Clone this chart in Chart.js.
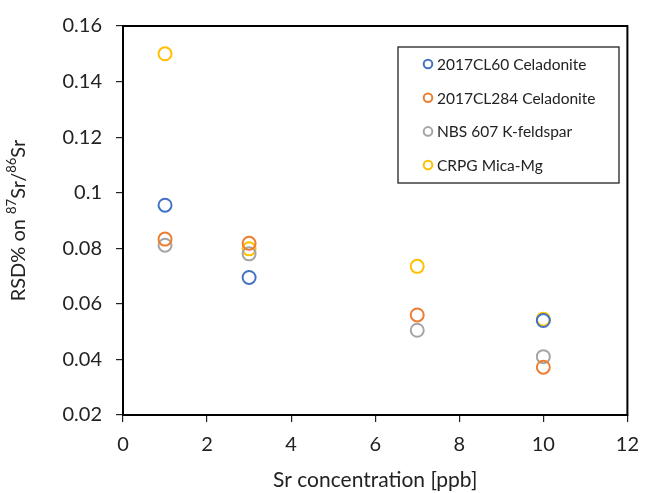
<!DOCTYPE html>
<html><head><meta charset="utf-8">
<script src="https://cdn.jsdelivr.net/npm/chart.js@4/dist/chart.umd.min.js"></script>
<style>html,body{margin:0;padding:0;background:#fff}#wrap{width:650px;height:493px}</style>
</head><body><div id="wrap"><canvas id="c" width="650" height="493"></canvas></div>
<script>
const seriesNames = ['2017CL60 Celadonite','2017CL284 Celadonite','NBS 607 K-feldspar','CRPG Mica-Mg'];
const seriesColors = ['#4472C4','#ED7D31','#A5A5A5','#FFC000'];
const xCL60 = [1,3,10];
const yCL60 = [0.0955,0.0695,0.0540];
const xCL284 = [1,3,7,10];
const yCL284 = [0.0833,0.0818,0.0560,0.0372];
const xNBS = [1,3,7,10];
const yNBS = [0.0811,0.0780,0.0505,0.0410];
const xCRPG = [1,3,7,10];
const yCRPG = [0.1500,0.0798,0.0735,0.0545];
const xTickLabels = ['0','2','4','6','8','10','12'];
const yTickLabels = ['0.02','0.04','0.06','0.08','0.1','0.12','0.14','0.16'];
const xTitle = 'Sr concentration [ppb]';
const yTitleParts = [['RSD% on ', false], ['87', true], ['Sr/', false], ['86', true], ['Sr', false]];

const FONT = 'Lato, "Open Sans", sans-serif';
const pts = (xs, ys) => xs.map((x,i)=>({x, y: ys[i]}));
const allData = [pts(xCL60,yCL60), pts(xCL284,yCL284), pts(xNBS,yNBS), pts(xCRPG,yCRPG)];

const frameLegend = {
  id: 'frameLegend',
  afterDraw(chart) {
    const {ctx, chartArea: a} = chart;
    ctx.save();
    ctx.strokeStyle = '#000'; ctx.lineWidth = 2;
    ctx.strokeRect(a.left, a.top, a.right - a.left, a.bottom - a.top);
    // y title with superscripts
    const big = '20px ' + FONT, small = '13px ' + FONT;
    let total = 0;
    yTitleParts.forEach(([t, sup]) => { ctx.font = sup ? small : big; total += ctx.measureText(t).width; });
    ctx.translate(19, (a.top + a.bottom) / 2);
    ctx.rotate(-Math.PI / 2);
    ctx.fillStyle = '#222'; ctx.textBaseline = 'middle'; ctx.textAlign = 'left';
    let x = -total / 2;
    yTitleParts.forEach(([t, sup]) => {
      ctx.font = sup ? small : big;
      ctx.fillText(t, x, sup ? -7 : 0);
      x += ctx.measureText(t).width;
    });
    ctx.setTransform(1, 0, 0, 1, 0, 0);
    // legend box
    const lx = 398, ly = 47, lw = 221, lh = 136;
    ctx.fillStyle = '#fff';
    ctx.fillRect(lx, ly, lw, lh);
    ctx.lineWidth = 1.3; ctx.strokeStyle = '#222';
    ctx.strokeRect(lx, ly, lw, lh);
    ctx.font = '15.5px ' + FONT;
    ctx.textBaseline = 'middle';
    chart.data.datasets.forEach((ds, i) => {
      const cy = ly + 17 + i * 33.7;
      ctx.beginPath();
      ctx.lineWidth = 2; ctx.strokeStyle = ds.borderColor;
      ctx.arc(lx + 30, cy, 4.3, 0, Math.PI * 2);
      ctx.stroke();
      ctx.fillStyle = '#222';
      ctx.fillText(ds.label, lx + 39, cy + 1);
    });
    ctx.restore();
  }
};

new Chart(document.getElementById('c'), {
  type: 'scatter',
  data: {
    datasets: allData.map((d, i) => ({
      label: seriesNames[i], data: d,
      borderColor: seriesColors[i], backgroundColor: 'rgba(0,0,0,0)',
      pointRadius: 6.5, pointBorderWidth: 2, pointHoverRadius: 6.5
    }))
  },
  options: {
    responsive: false, animation: false,
    layout: {padding: {left: 0, right: 13, top: 14, bottom: 0}},
    plugins: {legend: {display: false}, tooltip: {enabled: false}},
    scales: {
      x: {
        type: 'linear', min: 0, max: 12,
        afterFit: (s) => { s.height = 78; },
        ticks: {stepSize: 2, color: '#222', font: {family: FONT, size: 20}, padding: 11, maxRotation: 0,
          callback: (v) => { const i = Math.round(v / 2); return xTickLabels[i] ?? ''; }},
        grid: {display: true, drawOnChartArea: false, drawTicks: true, tickLength: 7, color: '#222', lineWidth: 1.2},
        border: {color: '#000', width: 2},
        title: {display: true, text: xTitle, color: '#222', font: {family: FONT, size: 21}, padding: {top: 0, bottom: 0}}
      },
      y: {
        type: 'linear', min: 0.02, max: 0.16,
        afterFit: (s) => { s.width = 123; },
        ticks: {stepSize: 0.02, color: '#222', font: {family: FONT, size: 20}, padding: 14,
          callback: (v) => { const i = Math.round((v - 0.02) / 0.02); return yTickLabels[i] ?? ''; }},
        grid: {display: true, drawOnChartArea: false, drawTicks: true, tickLength: 7, color: '#222', lineWidth: 1.2},
        border: {color: '#000', width: 2}
      }
    }
  },
  plugins: [frameLegend]
});
</script></body></html>
